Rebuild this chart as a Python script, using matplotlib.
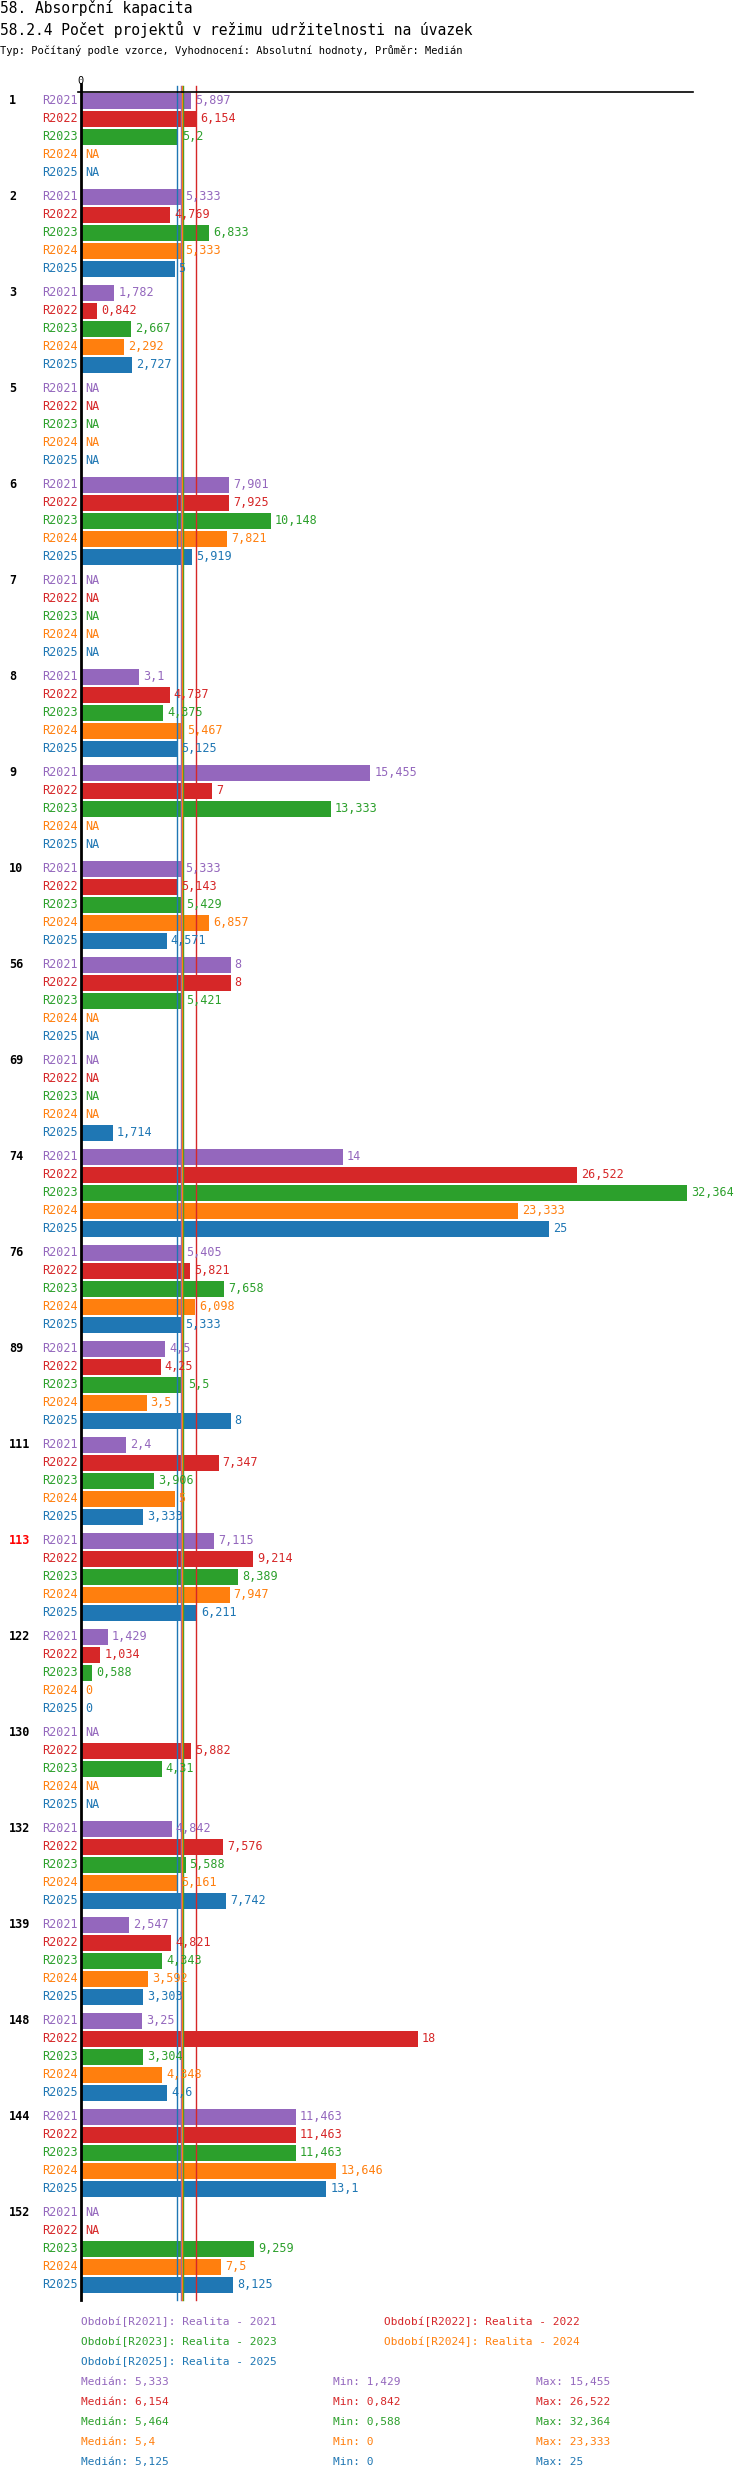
import numpy as np
import matplotlib
matplotlib.use("Agg")
import matplotlib.pyplot as plt

plt.rcParams['font.family'] = ['DejaVu Sans Mono']

# data
groups = ['1', '2', '3', '5', '6', '7', '8', '9', '10', '56', '69', '74', '76', '89', '111',
          '113', '122', '130', '132', '139', '148', '144', '152']
periods = ['R2021', 'R2022', 'R2023', 'R2024', 'R2025']
colors = ['#9467bd', '#d62728', '#2ca02c', '#ff7f0e', '#1f77b4']
NA = None
values = [
    [5.897, 6.154, 5.2, NA, NA],
    [5.333, 4.769, 6.833, 5.333, 5],
    [1.782, 0.842, 2.667, 2.292, 2.727],
    [NA, NA, NA, NA, NA],
    [7.901, 7.925, 10.148, 7.821, 5.919],
    [NA, NA, NA, NA, NA],
    [3.1, 4.737, 4.375, 5.467, 5.125],
    [15.455, 7, 13.333, NA, NA],
    [5.333, 5.143, 5.429, 6.857, 4.571],
    [8, 8, 5.421, NA, NA],
    [NA, NA, NA, NA, 1.714],
    [14, 26.522, 32.364, 23.333, 25],
    [5.405, 5.821, 7.658, 6.098, 5.333],
    [4.5, 4.25, 5.5, 3.5, 8],
    [2.4, 7.347, 3.906, 5, 3.333],
    [7.115, 9.214, 8.389, 7.947, 6.211],
    [1.429, 1.034, 0.588, 0, 0],
    [NA, 5.882, 4.31, NA, NA],
    [4.842, 7.576, 5.588, 5.161, 7.742],
    [2.547, 4.821, 4.343, 3.592, 3.303],
    [3.25, 18, 3.304, 4.348, 4.6],
    [11.463, 11.463, 11.463, 13.646, 13.1],
    [NA, NA, 9.259, 7.5, 8.125],
]
highlight = '113'
medians = [5.333, 6.154, 5.464, 5.4, 5.125]
mins = [1.429, 0.842, 0.588, 0, 0]
maxs = [15.455, 26.522, 32.364, 23.333, 25]
legend_names = ['Realita - 2021', 'Realita - 2022', 'Realita - 2023', 'Realita - 2024', 'Realita - 2025']


def fmt(v):
    s = ('%.3f' % v).rstrip('0').rstrip('.')
    return s.replace('.', ',')


W, H = 750, 2480
fig = plt.figure(figsize=(W / 100, H / 100), dpi=100)
left, right, top, bottom = 81, 693, 92, 2300
ax = fig.add_axes([left / W, 1 - bottom / H, (right - left) / W, (bottom - top) / H])
xmax = 32.7
ax.set_xlim(0, xmax)
ax.set_ylim(bottom, top)
ax.axis('off')
ppu = (right - left) / xmax


def px(x):
    return (x - left) / ppu


fs = 8.5
for g, name in enumerate(groups):
    y0 = 101 + 96 * g
    ax.text(px(9), y0, name, ha='left', va='center', fontsize=fs, fontweight='bold',
            color='red' if name == highlight else 'black', clip_on=False)
    for r in range(5):
        y = y0 + 18 * r
        ax.text(px(78), y, periods[r], ha='right', va='center', fontsize=fs, color=colors[r], clip_on=False)
        v = values[g][r]
        if v is None:
            ax.text(px(85), y, 'NA', ha='left', va='center', fontsize=fs, color=colors[r], clip_on=False)
        else:
            ax.barh(y, v, height=16, color=colors[r], left=0)
            ax.text(v + px(85), y, fmt(v), ha='left', va='center', fontsize=fs, color=colors[r], clip_on=False)

for m, c in zip(medians, colors):
    ax.plot([m, m], [86, bottom], color=c, lw=1, clip_on=False)
ax.plot([px(78), xmax], [top, top], color='black', lw=1.2, clip_on=False)
ax.plot([0, 0], [top - 8, bottom], color='black', lw=2, clip_on=False)
ax.text(0, 81, '0', ha='center', va='center', fontsize=7.5, clip_on=False)

fig.text(0, 1 - 8 / H, '58. Absorpční kapacita', fontsize=10.5, va='center')
fig.text(0, 1 - 29 / H, '58.2.4 Počet projektů v režimu udržitelnosti na úvazek', fontsize=10.5, va='center')
fig.text(0, 1 - 51 / H, 'Typ: Počítaný podle vzorce, Vyhodnocení: Absolutní hodnoty, Průměr: Medián',
         fontsize=7.5, va='center')

# legend
leg_pos = [(81, 2322), (384, 2322), (81, 2342), (384, 2342), (81, 2362)]
for (lx, ly), p, n, c in zip(leg_pos, periods, legend_names, colors):
    fig.text(lx / W, 1 - ly / H, 'Období[%s]: %s' % (p, n), fontsize=8, color=c, va='center')
for i, c in enumerate(colors):
    ly = 1 - (2382 + 20 * i) / H
    fig.text(81 / W, ly, 'Medián: ' + fmt(medians[i]), fontsize=8, color=c, va='center')
    fig.text(333 / W, ly, 'Min: ' + fmt(mins[i]), fontsize=8, color=c, va='center')
    fig.text(536 / W, ly, 'Max: ' + fmt(maxs[i]), fontsize=8, color=c, va='center')

fig.savefig('out.png', dpi=100, facecolor='white')
